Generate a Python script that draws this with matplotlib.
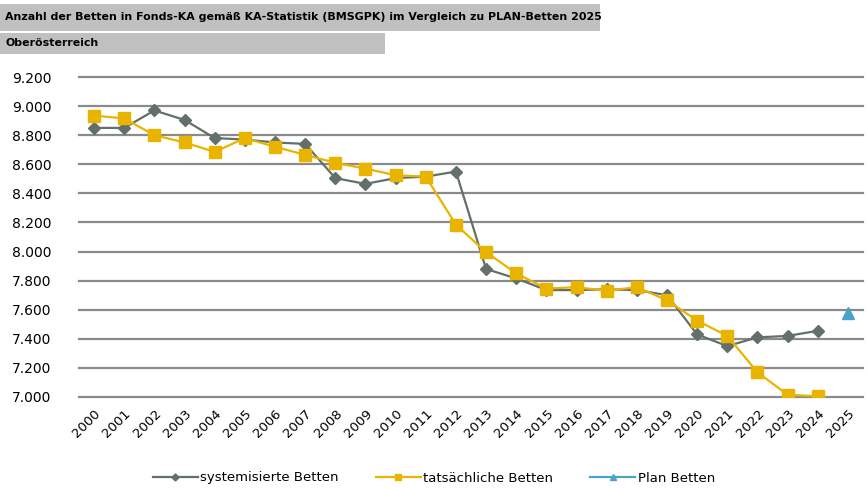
import matplotlib
matplotlib.use("Agg")
import matplotlib.pyplot as plt
from matplotlib.patches import Rectangle
from matplotlib.ticker import FuncFormatter

years = list(range(2000, 2026))
year_labels = [str(y) for y in years]

systemisiert = [8850, 8850, 8970, 8905, 8780, 8770, 8750, 8740, 8505, 8465,
                8505, 8515, 8550, 7880, 7815, 7735, 7735, 7740, 7735, 7700,
                7430, 7350, 7410, 7420, 7455, None]
tatsaechlich = [8935, 8915, 8800, 8750, 8685, 8780, 8720, 8665, 8610, 8570,
                8525, 8515, 8185, 7995, 7850, 7745, 7755, 7730, 7755, 7665,
                7525, 7420, 7170, 7015, 7005, None]
plan = [None] * 25 + [7580]

title = "Anzahl der Betten in Fonds-KA gemäß KA-Statistik (BMSGPK) im Vergleich zu PLAN-Betten 2025"
subtitle = "Oberösterreich"

def nan(vals):
    return [float("nan") if v is None else v for v in vals]

fig = plt.figure(figsize=(8.68, 4.88), dpi=100)
W, H = 868, 488

# grey header bars
fig.patches.append(Rectangle((0, 1 - 31 / H), 600 / W, 27 / H, transform=fig.transFigure,
                             facecolor="#c0c0c0", edgecolor="none"))
fig.patches.append(Rectangle((0, 1 - 54 / H), 385 / W, 21 / H, transform=fig.transFigure,
                             facecolor="#c0c0c0", edgecolor="none"))
fig.text(5 / W, 1 - 17.5 / H, title, fontsize=7.9, fontweight="bold", va="center", ha="left")
fig.text(5 / W, 1 - 43.5 / H, subtitle, fontsize=7.9, fontweight="bold", va="center", ha="left")

ax = fig.add_axes([79 / W, 1 - 397 / H, 784 / W, 320 / H])
x = list(range(len(years)))

ax.plot(x, nan(systemisiert), color="#63706a", marker="D", markersize=6, linewidth=1.6,
        label="systemisierte Betten", zorder=3)
ax.plot(x, nan(tatsaechlich), color="#e8b400", marker="s", markersize=8, linewidth=1.6,
        label="tatsächliche Betten", zorder=4)
ax.plot(x, nan(plan), color="#4ba3c8", marker="^", markersize=8, linewidth=1.6,
        label="Plan Betten", zorder=5)

ax.set_xlim(-0.5, len(years) - 0.5)
ax.set_ylim(7000, 9200)
ax.set_yticks(range(7000, 9201, 200))
ax.yaxis.set_major_formatter(FuncFormatter(lambda v, p: f"{int(v):,}".replace(",", ".")))
ax.set_xticks(x)
ax.set_xticklabels(year_labels, rotation=45, ha="right", rotation_mode="anchor", fontsize=9.5)
ax.tick_params(axis="y", length=0, pad=20, labelsize=10)
ax.tick_params(axis="x", length=0, pad=7)
ax.grid(axis="y", color="#8a8a8a", linewidth=1.6)
for gl in ax.get_ygridlines():
    gl.set_clip_on(False)
ax.set_axisbelow(True)
for s in ax.spines.values():
    s.set_visible(False)

fig.legend(loc="center", bbox_to_anchor=(0.5, 1 - 478 / H), ncol=3, frameon=False,
           fontsize=9.5, handlelength=3.4, columnspacing=2.8, handletextpad=0.2,
           markerscale=0.6)

fig.savefig("out.png", dpi=100)
